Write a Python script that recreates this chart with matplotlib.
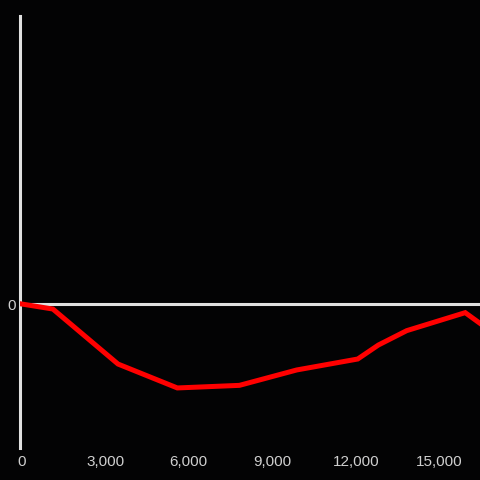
import matplotlib
matplotlib.use("Agg")
import matplotlib.pyplot as plt

# values (x in units, y in arbitrary units)
xs = [0, 1120, 3460, 5590, 7820, 9880, 12070, 12810, 13830, 15930, 16500]
ys = [0.0, -0.035, -0.417, -0.583, -0.565, -0.458, -0.382, -0.285, -0.185, -0.06, -0.14]
xticks = [0, 3000, 6000, 9000, 12000, 15000]
yticks = [0]

bg = "#030304"
axis_col = "#e0e0e0"
text_col = "#cfcfcf"

plt.rcParams["font.family"] = ["Liberation Sans", "DejaVu Sans"]

fig = plt.figure(figsize=(4.8, 4.8), dpi=100, facecolor=bg)
ax = fig.add_axes([20 / 480, 32 / 480, 460 / 480, 432 / 480], facecolor=bg)

ax.axhline(0, color=axis_col, lw=2.2, zorder=1)
ax.plot(xs, ys, color="#ff0000", lw=3.6, solid_joinstyle="miter", zorder=3)

ax.set_xlim(-61, 16461)
ax.set_ylim(-1, 2)

ax.set_xticks(xticks)
ax.set_xticklabels([f"{v:,}" for v in xticks])
ax.set_yticks(yticks)
ax.set_yticklabels([str(v) for v in yticks])
ax.tick_params(axis="x", length=0, pad=5, colors=text_col, labelsize=11)
ax.tick_params(axis="y", length=0, pad=3, colors=text_col, labelsize=11)

for s in ["top", "right", "bottom"]:
    ax.spines[s].set_visible(False)
ax.spines["left"].set_color(axis_col)
ax.spines["left"].set_linewidth(2.2)
ax.spines["left"].set_zorder(2)

fig.savefig("out.png", dpi=100, facecolor=bg)
